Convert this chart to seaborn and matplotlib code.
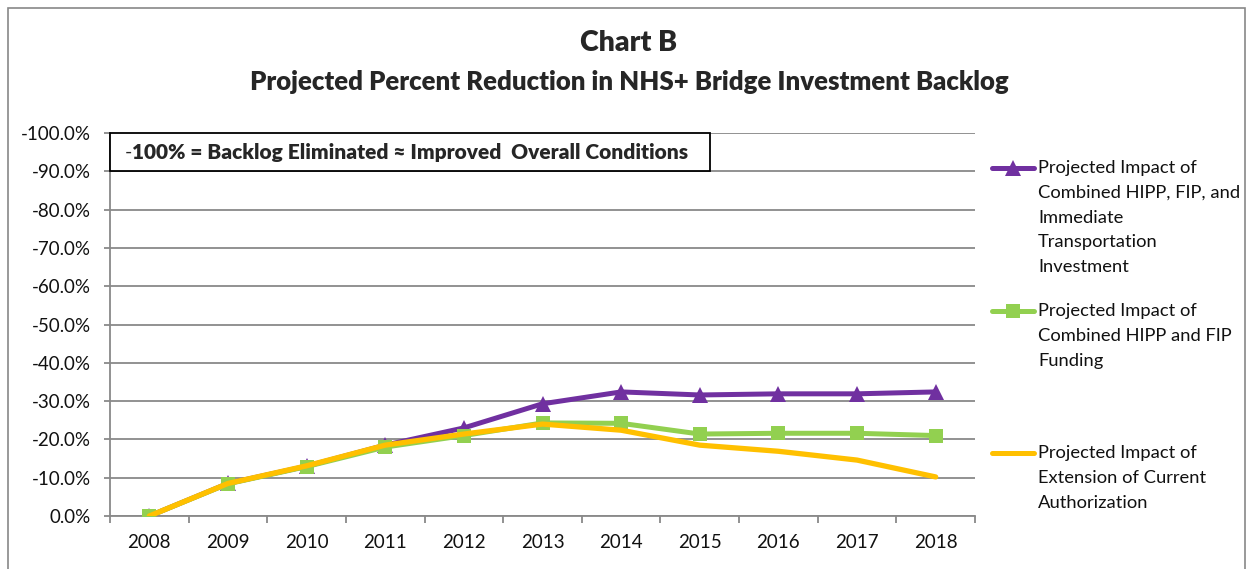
import matplotlib
matplotlib.use("Agg")
import matplotlib.pyplot as plt
import seaborn as sns
import pandas as pd
from matplotlib.lines import Line2D
from matplotlib.patches import Rectangle
from matplotlib.ticker import PercentFormatter, FixedLocator

# Chart data (percent reduction, negative = reduction)
years = [2008, 2009, 2010, 2011, 2012, 2013, 2014, 2015, 2016, 2017, 2018]
combined_hipp_fip_invest = [0.0, -8.5, -13.0, -18.5, -23.0, -29.3, -32.4, -31.6, -31.9, -31.9, -32.4]
combined_hipp_fip = [0.0, -8.4, -12.9, -18.0, -21.0, -24.3, -24.2, -21.4, -21.6, -21.6, -21.0]
current_authorization = [0.0, -8.5, -13.1, -18.5, -21.4, -24.0, -22.4, -18.5, -16.9, -14.6, -10.2]

legend_labels = [
    ["Projected Impact of", "Combined HIPP, FIP, and", "Immediate", "Transportation", "Investment"],
    ["Projected Impact of", "Combined HIPP and FIP", "Funding"],
    ["Projected Impact of", "Extension of Current", "Authorization"],
]

PURPLE = "#7030A0"
GREEN = "#92D050"
YELLOW = "#FFC000"
GRID = "#898989"

sns.set_style("white")
plt.rcParams["font.family"] = ["Lato", "DejaVu Sans"]
plt.rcParams["axes.unicode_minus"] = False

W, H = 1248, 569
fig = plt.figure(figsize=(W / 100, H / 100), dpi=100)
ax = fig.add_axes([110 / W, 1 - 516 / H, (975 - 110) / W, (516 - 133) / H])

df = pd.DataFrame({
    "year": years,
    "invest": combined_hipp_fip_invest,
    "hipp_fip": combined_hipp_fip,
    "current": current_authorization,
})

sns.lineplot(data=df, x="year", y="invest", ax=ax, color=PURPLE, lw=3.6,
             marker="^", markersize=11.5, markeredgewidth=0, zorder=3)
sns.lineplot(data=df, x="year", y="hipp_fip", ax=ax, color=GREEN, lw=3.6,
             marker="s", markersize=10.5, markeredgewidth=0, zorder=4)
sns.lineplot(data=df, x="year", y="current", ax=ax, color=YELLOW, lw=3.8,
             zorder=5)

ax.set_xlim(years[0] - 0.5, years[-1] + 0.5)
ax.set_ylim(0, -100)
ax.set_yticks(range(0, -101, -10))
ax.yaxis.set_major_formatter(PercentFormatter(decimals=1))
ax.set_xticks(years)
ax.xaxis.set_minor_locator(FixedLocator([y - 0.5 for y in years] + [years[-1] + 0.5]))
ax.set_xlabel("")
ax.set_ylabel("")

ax.grid(axis="y", color=GRID, lw=1.3)
ax.set_axisbelow(True)
for s in ["top", "right"]:
    ax.spines[s].set_visible(False)
for s in ["left", "bottom"]:
    ax.spines[s].set_color(GRID)
    ax.spines[s].set_linewidth(1.3)

ax.tick_params(axis="y", which="major", length=4, width=1.3, color=GRID,
               direction="out", pad=10, labelsize=13.5, labelcolor="#111111", left=True)
ax.tick_params(axis="x", which="major", length=0, pad=13, labelsize=13.5,
               labelcolor="#111111")
ax.tick_params(axis="x", which="minor", length=5, width=1.3, color=GRID,
               direction="out", bottom=True)

# note box at top-left of plot
ax.add_patch(Rectangle((0, 0.9), (710 - 110) / 865, 0.1, transform=ax.transAxes,
                       fill=True, facecolor="white", edgecolor="black", lw=1.3,
                       zorder=6, clip_on=False))
ax.text(0.017, 0.95, "-", transform=ax.transAxes, fontsize=14, va="center",
        ha="left", zorder=7)
ax.text(0.026, 0.95, "100% = Backlog Eliminated \u2248 Improved  Overall Conditions",
        transform=ax.transAxes, fontsize=15, fontweight="heavy", va="center",
        ha="left", zorder=7)

# titles
fig.text(629 / W, 1 - 43 / H, "Chart B", fontsize=20.5, fontweight="heavy",
         ha="center", va="center")
fig.text(629 / W, 1 - 82 / H,
         "Projected Percent Reduction in NHS+ Bridge Investment Backlog",
         fontsize=18.5, fontweight="heavy", ha="center", va="center")

# legend drawn at the right
styles = [(PURPLE, "^", 11.5), (GREEN, "s", 10.5), (YELLOW, None, 0)]
starts = [168, 311, 453]
for (color, marker, ms), lines, y0 in zip(styles, legend_labels, starts):
    yf = 1 - y0 / H
    fig.add_artist(Line2D([992 / W, 1013 / W, 1034 / W], [yf, yf, yf],
                          color=color, lw=3.6, marker=marker, markersize=ms,
                          markeredgewidth=0, markevery=[1]))
    for k, line in enumerate(lines):
        fig.text(1038 / W, 1 - (y0 + k * 24.8) / H, line, fontsize=13.2,
                 ha="left", va="center", color="#111111")

# outer chart frame
fig.add_artist(Rectangle((8 / W, -0.05), (1245 - 8) / W, 1.05 - 8 / H,
                         transform=fig.transFigure, fill=False,
                         edgecolor="#888888", lw=1.2))

fig.savefig("out.png", dpi=100)
